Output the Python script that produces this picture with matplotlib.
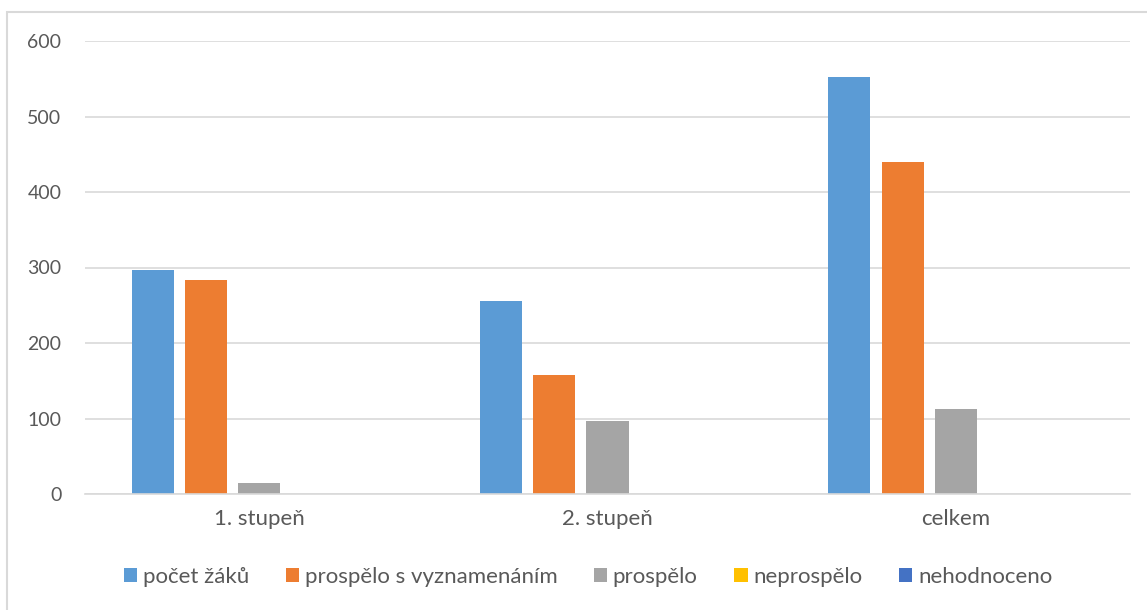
import numpy as np
import matplotlib
matplotlib.use("Agg")
import matplotlib.pyplot as plt
import matplotlib.patches as patches

# Data
categories = ["1. stupeň", "2. stupeň", "celkem"]
series_names = ["počet žáků", "prospělo s vyznamenáním", "prospělo",
                "neprospělo", "nehodnoceno"]
pocet_zaku = [297, 255, 552]
prospelo_vyzn = [283, 157, 440]
prospelo = [15, 97, 112]
neprospelo = [0, 0, 0]
nehodnoceno = [0, 0, 0]
y_ticks = [0, 100, 200, 300, 400, 500, 600]

COLORS = ["#5B9BD5", "#ED7D31", "#A5A5A5", "#FFC000", "#4472C4"]
TEXT_COLOR = "#595959"
GRID_COLOR = "#D9D9D9"

plt.rcParams["font.family"] = ["Lato", "DejaVu Sans"]

W, H = 1147, 610
fig = plt.figure(figsize=(W / 100, H / 100), dpi=100)
ax = fig.add_axes([85 / W, 1 - 494 / H, (1130 - 85) / W, (494 - 41) / H])

values = [pocet_zaku, prospelo_vyzn, prospelo, neprospelo, nehodnoceno]
x = np.arange(len(categories))
step = 0.153
width = 0.1206
for i, (vals, name, col) in enumerate(zip(values, series_names, COLORS)):
    ax.bar(x + (i - 2) * step, vals, width, color=col, label=name, zorder=3)

ax.set_xlim(-0.5, len(categories) - 0.5)
ax.set_ylim(0, 600)
ax.set_yticks(y_ticks)
ax.set_xticks(x)
ax.set_xticklabels(categories)
ax.tick_params(axis="both", length=0, colors=TEXT_COLOR)
ax.tick_params(axis="y", pad=17, labelsize=14)
ax.tick_params(axis="x", pad=11, labelsize=16)
ax.grid(axis="y", color=GRID_COLOR, linewidth=1.2, zorder=0)
for side in ["top", "right", "left"]:
    ax.spines[side].set_visible(False)
ax.spines["bottom"].set_color(GRID_COLOR)
ax.spines["bottom"].set_linewidth(1.2)
ax.spines["bottom"].set_zorder(4)

fig.legend(loc="center", bbox_to_anchor=(588 / W, 1 - 577 / H), ncol=5,
           frameon=False, fontsize=16, labelcolor=TEXT_COLOR,
           handlelength=0.6, handleheight=0.6, handletextpad=0.25,
           columnspacing=1.65)

# chart area border (left and top visible, rest cropped)
border = patches.Rectangle((7 / W, -0.05), 1.2, 1 - 12 / H + 0.05,
                           transform=fig.transFigure, fill=False,
                           edgecolor=GRID_COLOR, linewidth=1.5)
fig.add_artist(border)

fig.savefig("out.png", dpi=100)
